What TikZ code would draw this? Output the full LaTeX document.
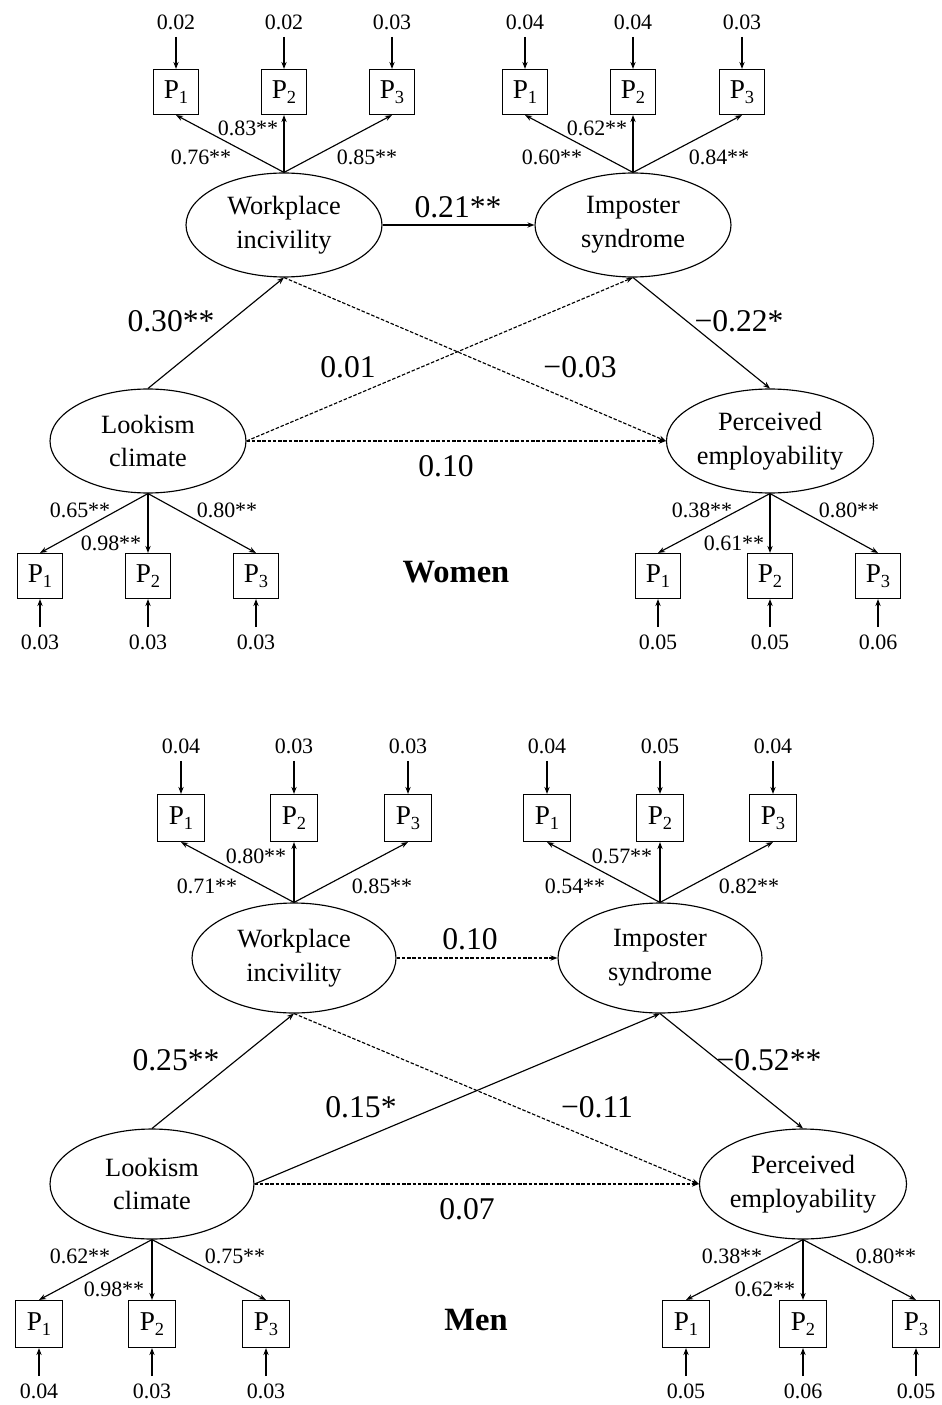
\documentclass[tikz,border=0pt]{standalone}
\usepackage{fontspec}
\setmainfont{Liberation Serif}
\usetikzlibrary{arrows.meta,shapes.geometric}

\newcommand{\Pind}[1]{P\raisebox{-2.5pt}{\fontsize{10.5}{10.5}\selectfont #1}}

\tikzset{
  latent/.style={draw, ellipse, line width=0.65pt, minimum width=3.92cm, minimum height=2.08cm, inner sep=0pt, align=center, font=\fontsize{15}{19.3}\selectfont},
  indicator/.style={draw, rectangle, line width=0.65pt, minimum size=0.9cm, inner sep=0pt, font=\fontsize{15.5}{17}\selectfont},
  errlabel/.style={inner sep=4pt, font=\fontsize{12.5}{14}\selectfont},
  loadlabel/.style={inner sep=0pt, font=\fontsize{12.5}{14}\selectfont},
  pathlabel/.style={inner sep=0pt, font=\fontsize{18}{20}\selectfont},
  grouplabel/.style={inner sep=0pt, font=\fontsize{18.5}{20}\selectfont\bfseries},
  sig/.style={line width=0.65pt, -{Stealth[length=4pt,width=3pt]}},
  nonsig/.style={sig, dash pattern=on 2pt off 1pt},
}

\begin{document}
\begin{tikzpicture}[x=0.02cm, y=-0.02cm]
	\useasboundingbox (0,0) rectangle (941,1405);
	% Women
	\node[latent] (wWI) at (284,225) {Workplace\\incivility};
	\node[latent] (wIS) at (633,225) {Imposter\\syndrome};
	\node[latent] (wLC) at (148,441) {Lookism\\climate};
	\node[latent] (wPE) at (770,441) {Perceived\\employability};
	\foreach \i/\bx/\ev/\lx/\ly/\lv in {1/176/0.02/201/157/0.76**, 2/284/0.02/248/128/0.83**, 3/392/0.03/367/157/0.85**} {
		\node[indicator] (wWIp\i) at (\bx,92) {\Pind{\i}};
		\node[errlabel] (wWIe\i) at (\bx,22) {\ev};
		\node[loadlabel] (wWIl\i) at (\lx,\ly) {\lv};
		\draw[sig] (wWIe\i) -- (wWIp\i);
		\draw[sig] (wWI.north) -- (wWIp\i.south);
	}
	\foreach \i/\bx/\ev/\lx/\ly/\lv in {1/525/0.04/552/157/0.60**, 2/633/0.04/597/128/0.62**, 3/742/0.03/719/157/0.84**} {
		\node[indicator] (wISp\i) at (\bx,92) {\Pind{\i}};
		\node[errlabel] (wISe\i) at (\bx,22) {\ev};
		\node[loadlabel] (wISl\i) at (\lx,\ly) {\lv};
		\draw[sig] (wISe\i) -- (wISp\i);
		\draw[sig] (wIS.north) -- (wISp\i.south);
	}
	\foreach \i/\bx/\ev/\lx/\ly/\lv in {1/40/0.03/80/510/0.65**, 2/148/0.03/111/543/0.98**, 3/256/0.03/227/510/0.80**} {
		\node[indicator] (wLCp\i) at (\bx,576) {\Pind{\i}};
		\node[errlabel] (wLCe\i) at (\bx,642) {\ev};
		\node[loadlabel] (wLCl\i) at (\lx,\ly) {\lv};
		\draw[sig] (wLCe\i) -- (wLCp\i);
		\draw[sig] (wLC.south) -- (wLCp\i.north);
	}
	\foreach \i/\bx/\ev/\lx/\ly/\lv in {1/658/0.05/702/510/0.38**, 2/770/0.05/734/543/0.61**, 3/878/0.06/849/510/0.80**} {
		\node[indicator] (wPEp\i) at (\bx,576) {\Pind{\i}};
		\node[errlabel] (wPEe\i) at (\bx,642) {\ev};
		\node[loadlabel] (wPEl\i) at (\lx,\ly) {\lv};
		\draw[sig] (wPEe\i) -- (wPEp\i);
		\draw[sig] (wPE.south) -- (wPEp\i.north);
	}
	\draw[sig] (wWI.east) -- (wIS.west);
	\draw[sig] (wLC.north) -- (wWI.south);
	\draw[sig] (wIS.south) -- (wPE.north);
	\draw[nonsig] (wLC.east) -- (wIS.south);
	\draw[nonsig] (wWI.south) -- (wPE.west);
	\draw[nonsig] (wLC.east) -- (wPE.west);
	\node[pathlabel] (wB1) at (458,207) {0.21**};
	\node[pathlabel] (wB2) at (171,321) {0.30**};
	\node[pathlabel] (wB3) at (739,321) {−0.22*};
	\node[pathlabel] (wB4) at (348,367) {0.01};
	\node[pathlabel] (wB5) at (580,367) {−0.03};
	\node[pathlabel] (wB6) at (446,466) {0.10};
	\node[grouplabel] (women) at (456,572) {Women};
	% Men
	\begin{scope}[latent/.append style={minimum width=4.08cm, minimum height=2.2cm}, indicator/.append style={minimum size=0.94cm}]
	\node[latent] (mWI) at (294,958) {Workplace\\incivility};
	\node[latent] (mIS) at (660,958) {Imposter\\syndrome};
	\node[latent] (mLC) at (152,1184) {Lookism\\climate};
	\node[latent] (mPE) at (803,1184) {Perceived\\employability};
	\foreach \i/\bx/\ev/\lx/\ly/\lv in {1/181/0.04/207/886/0.71**, 2/294/0.03/256/856/0.80**, 3/408/0.03/382/886/0.85**} {
		\node[indicator] (mWIp\i) at (\bx,818) {\Pind{\i}};
		\node[errlabel] (mWIe\i) at (\bx,746) {\ev};
		\node[loadlabel] (mWIl\i) at (\lx,\ly) {\lv};
		\draw[sig] (mWIe\i) -- (mWIp\i);
		\draw[sig] (mWI.north) -- (mWIp\i.south);
	}
	\foreach \i/\bx/\ev/\lx/\ly/\lv in {1/547/0.04/575/886/0.54**, 2/660/0.05/622/856/0.57**, 3/773/0.04/749/886/0.82**} {
		\node[indicator] (mISp\i) at (\bx,818) {\Pind{\i}};
		\node[errlabel] (mISe\i) at (\bx,746) {\ev};
		\node[loadlabel] (mISl\i) at (\lx,\ly) {\lv};
		\draw[sig] (mISe\i) -- (mISp\i);
		\draw[sig] (mIS.north) -- (mISp\i.south);
	}
	\foreach \i/\bx/\ev/\lx/\ly/\lv in {1/39/0.04/80/1256/0.62**, 2/152/0.03/114/1289/0.98**, 3/266/0.03/235/1256/0.75**} {
		\node[indicator] (mLCp\i) at (\bx,1324) {\Pind{\i}};
		\node[errlabel] (mLCe\i) at (\bx,1391) {\ev};
		\node[loadlabel] (mLCl\i) at (\lx,\ly) {\lv};
		\draw[sig] (mLCe\i) -- (mLCp\i);
		\draw[sig] (mLC.south) -- (mLCp\i.north);
	}
	\foreach \i/\bx/\ev/\lx/\ly/\lv in {1/686/0.05/732/1256/0.38**, 2/803/0.06/765/1289/0.62**, 3/916/0.05/886/1256/0.80**} {
		\node[indicator] (mPEp\i) at (\bx,1324) {\Pind{\i}};
		\node[errlabel] (mPEe\i) at (\bx,1391) {\ev};
		\node[loadlabel] (mPEl\i) at (\lx,\ly) {\lv};
		\draw[sig] (mPEe\i) -- (mPEp\i);
		\draw[sig] (mPE.south) -- (mPEp\i.north);
	}
	\end{scope}
	\draw[nonsig] (mWI.east) -- (mIS.west);
	\draw[sig] (mLC.north) -- (mWI.south);
	\draw[sig] (mIS.south) -- (mPE.north);
	\draw[sig] (mLC.east) -- (mIS.south);
	\draw[nonsig] (mWI.south) -- (mPE.west);
	\draw[nonsig] (mLC.east) -- (mPE.west);
	\node[pathlabel] (mB1) at (470,939) {0.10};
	\node[pathlabel] (mB2) at (176,1060) {0.25**};
	\node[pathlabel] (mB3) at (769,1060) {−0.52**};
	\node[pathlabel] (mB4) at (361,1107) {0.15*};
	\node[pathlabel] (mB5) at (597,1107) {−0.11};
	\node[pathlabel] (mB6) at (467,1209) {0.07};
	\node[grouplabel] (men) at (476,1320) {Men};
\end{tikzpicture}
\end{document}
